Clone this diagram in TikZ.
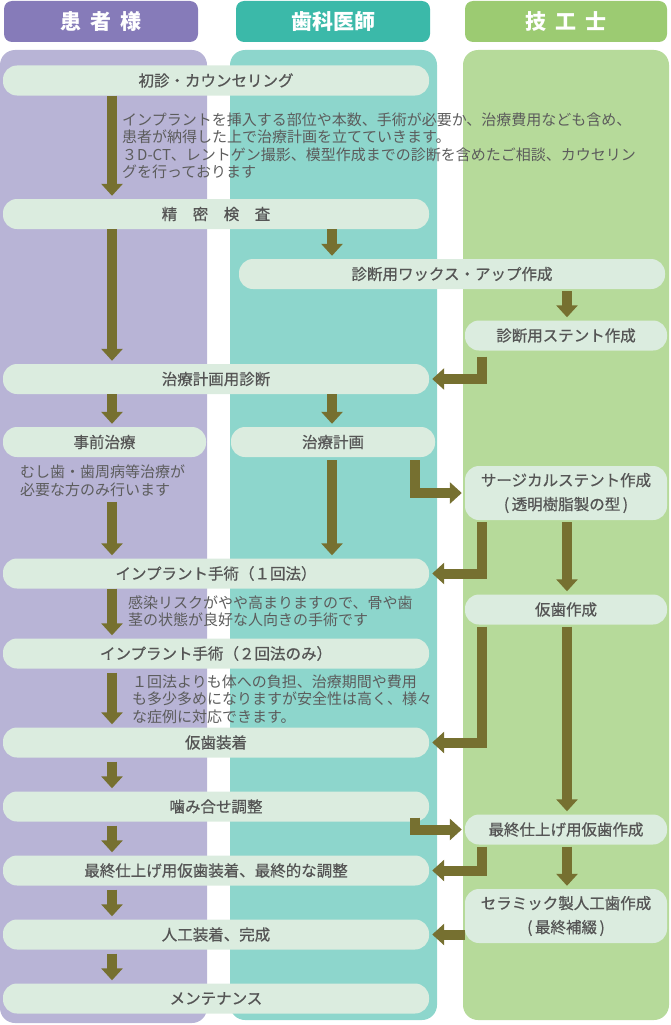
\documentclass[tikz,border=0pt]{standalone}
\usepackage{fontspec}
\setmainfont{Noto Sans CJK JP}
\newfontfamily\gothicmed{Noto Sans CJK JP}[FakeBold=0.7]
\usetikzlibrary{arrows.meta}
\definecolor{hdPurple}{HTML}{867BB9}
\definecolor{hdTeal}{HTML}{3BB9A9}
\definecolor{hdGreen}{HTML}{9CCB72}
\definecolor{lnPurple}{HTML}{B8B4D6}
\definecolor{lnTeal}{HTML}{8DD6CC}
\definecolor{lnGreen}{HTML}{B6DA9A}
\definecolor{bxFill}{HTML}{DBECDF}
\definecolor{arOlive}{HTML}{767030}
\definecolor{txGray}{HTML}{555555}
\definecolor{txNote}{HTML}{5C5C5C}
\tikzstyle{fLane} = [rounded corners=15pt]
\tikzstyle{fHead} = [rectangle, rounded corners=8pt, minimum height=41pt, inner sep=0pt, text=white, font=\bfseries\fontsize{21}{24}\selectfont]
\tikzstyle{fStep} = [rectangle, rounded corners=14pt, minimum width=426pt, minimum height=30pt, inner sep=0pt, fill=bxFill, text=txGray, font=\gothicmed\fontsize{15.5}{18}\selectfont]
\tikzstyle{fShort} = [fStep, minimum width=203pt]
\tikzstyle{fTwoLine} = [fStep, minimum width=202pt, minimum height=54pt, align=center, font=\gothicmed\fontsize{15.5}{24}\selectfont]
\tikzstyle{fNote} = [anchor=north west, align=left, inner sep=0pt, text=txNote, font=\fontsize{15}{17.5}\selectfont]
\tikzstyle{fArrow} = [draw=arOlive, line width=10pt, line join=miter, -{Triangle[width=21pt,length=12pt]}, shorten >=3pt]

\begin{document}
\begin{tikzpicture}[x=1pt, y=-1pt, node distance=64pt]
    \useasboundingbox (0,0) rectangle (670,1025);
    % lanes
    \fill [fLane, lnPurple] (0,50) rectangle (207,1023);
    \fill [fLane, lnTeal] (230,50) rectangle (437,1020);
    \fill [fLane, lnGreen] (463,50) rectangle (669,1020);
    \coordinate (lane1) at (112,0);
    \coordinate (lane2) at (332,0);
    \coordinate (lane3) at (567,0);
    \coordinate (lane4) at (482,0);
    \coordinate (lane5) at (415,0);

    \node (hp) [fHead, fill=hdPurple, minimum width=194pt] at (101,21.5) {患\hspace{.45em}者\hspace{.45em}様};
    \node (hd) [fHead, fill=hdTeal, minimum width=194pt, right of=hp, xshift=168pt] {歯科医師};
    \node (ht) [fHead, fill=hdGreen, minimum width=202pt, right of=hd, xshift=169pt] {技\hspace{.45em}工\hspace{.45em}士};

    \node (counsel) [fStep] at (216,80.5) {初診・カウンセリング};
    \node (exam) [fStep, below of=counsel, yshift=-69.5pt] {精　密　検　査};
    \node (waxup) [fStep, below of=exam, xshift=236pt, yshift=4pt] {診断用ワックス・アップ作成};
    \node (stent) [fShort, minimum width=202pt, below of=waxup, xshift=114pt, yshift=2.5pt] {診断用ステント作成};
    \node (plandiag) [fStep, below of=exam, yshift=-101pt] {治療計画用診断};
    \node (pretreat) [fShort, below of=plandiag, xshift=-111.5pt, yshift=1pt] {事前治療};
    \node (plan) [fShort, minimum width=204pt, below of=plandiag, xshift=117pt, yshift=1pt] {治療計画};
    \node (surgstent) [fTwoLine, below of=stent, yshift=-93.5pt] {サージカルステント作成\\(\,透明樹脂製の型\,)};
    \node (oneop) [fStep, below of=plandiag, yshift=-130.5pt] {インプラント手術（１回法）};
    \node (tempmake) [fShort, minimum width=202pt, below of=surgstent, yshift=-52.5pt] {仮歯作成};
    \node (twoop) [fStep, below of=oneop, yshift=-16pt] {インプラント手術（２回法のみ）};
    \node (tempfit) [fStep, below of=twoop, yshift=-25pt] {仮歯装着};
    \node (bite) [fStep, below of=tempfit] {噛み合せ調整};
    \node (finaltemp) [fShort, minimum width=202pt, below of=tempmake, yshift=-156pt] {最終仕上げ用仮歯作成};
    \node (finalfit) [fStep, below of=bite] {最終仕上げ用仮歯装着、最終的な調整};
    \node (ceramic) [fTwoLine, below of=finaltemp, yshift=-22.5pt] {セラミック製人工歯作成\\(\,最終補綴\,)};
    \node (complete) [fStep, below of=finalfit] {人工装着、完成};
    \node (maint) [fStep, below of=complete] {メンテナンス};

    % notes
    \node (notecounsel) [fNote] at (122,112.5) {インプラントを挿入する部位や本数、手術が必要か、治療費用なども含め、\\患者が納得した上で治療計画を立てていきます。\\３D-CT、レントゲン撮影、模型作成までの診断を含めたご相談、カウセリン\\グを行っております};
    \node (notepre) [fNote, font=\fontsize{15}{18}\selectfont] at (20,464.5) {むし歯・歯周病等治療が\\必要な方のみ行います};
    \node (noteone) [fNote, font=\fontsize{15}{17}\selectfont] at (128,595.5) {感染リスクがやや高まりますので、骨や歯\\茎の状態が良好な人向きの手術です};
    \node (notetwo) [fNote] at (132,674.5) {１回法よりも体への負担、治療期間や費用\\も多少多めになりますが安全性は高く、様々\\な症例に対応できます。};

    % patient lane
    \draw [fArrow] (counsel.south -| lane1) -- (exam.north -| lane1);
    \draw [fArrow] (exam.south -| lane1) -- (plandiag.north -| lane1);
    \draw [fArrow] (plandiag.south -| lane1) -- (pretreat.north -| lane1);
    \draw [fArrow, shorten <=5pt] (notepre.south -| lane1) -- (oneop.north -| lane1);
    \draw [fArrow] (oneop.south -| lane1) -- (twoop.north -| lane1);
    \draw [fArrow, shorten <=4pt] (twoop.south -| lane1) -- (tempfit.north -| lane1);
    \draw [fArrow, shorten <=4pt] (tempfit.south -| lane1) -- (bite.north -| lane1);
    \draw [fArrow, shorten <=4pt] (bite.south -| lane1) -- (finalfit.north -| lane1);
    \draw [fArrow, shorten <=4pt] (finalfit.south -| lane1) -- (complete.north -| lane1);
    \draw [fArrow, shorten <=4pt] (complete.south -| lane1) -- (maint.north -| lane1);
    % dentist lane
    \draw [fArrow] (exam.south -| lane2) -- (waxup.north -| lane2);
    \draw [fArrow] (plandiag.south -| lane2) -- (plan.north -| lane2);
    \draw [fArrow, shorten <=3pt] (plan.south -| lane2) -- (oneop.north -| lane2);
    \draw [fArrow, shorten <=3pt] (plan.south -| lane5) |- (surgstent.west);
    \draw [fArrow, shorten <=-4pt] (bite.south -| lane5) |- (finaltemp.west);
    % technician lane
    \draw [fArrow, shorten <=2pt] (waxup.south -| lane3) -- (stent.north -| lane3);
    \draw [fArrow, shorten <=2pt] (surgstent.south -| lane3) -- (tempmake.north -| lane3);
    \draw [fArrow, shorten <=2pt] (tempmake.south -| lane3) -- (finaltemp.north -| lane3);
    \draw [fArrow, shorten <=2pt] (finaltemp.south -| lane3) -- (ceramic.north -| lane3);
    \draw [fArrow, shorten <=6pt] (stent.south -| lane4) |- (plandiag.east);
    \draw [fArrow, shorten <=2pt] (surgstent.south -| lane4) |- (oneop.east);
    \draw [fArrow, shorten <=2pt] (tempmake.south -| lane4) |- (tempfit.east);
    \draw [fArrow, shorten <=2pt] (finaltemp.south -| lane4) |- (finalfit.east);
    \draw [fArrow] (ceramic.west |- complete) -- (complete.east);
\end{tikzpicture}
\end{document}
